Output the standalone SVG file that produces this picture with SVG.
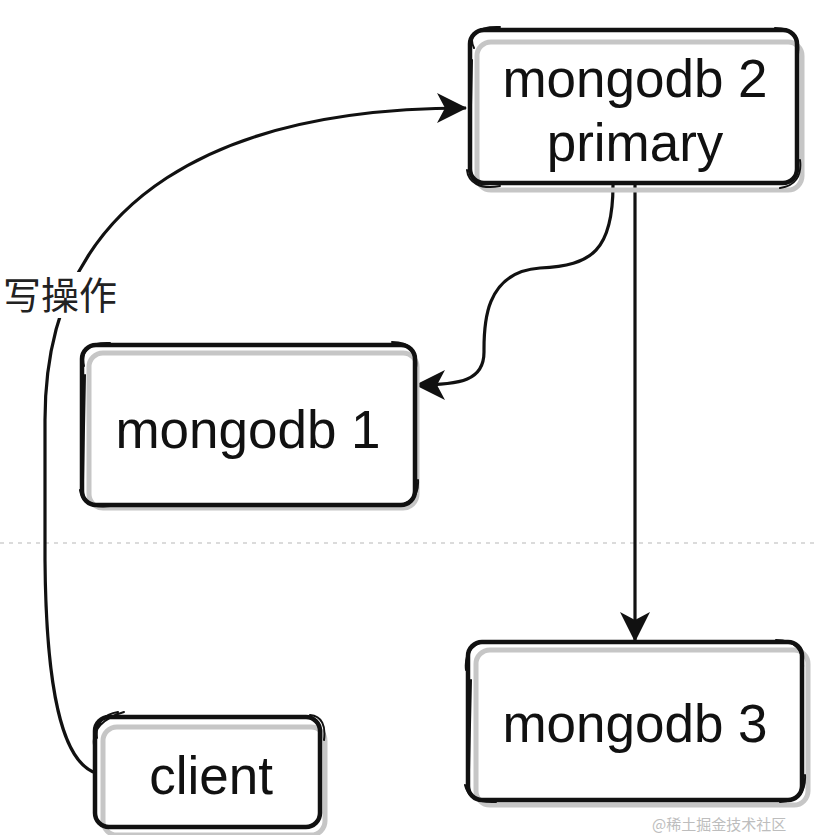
<svg xmlns="http://www.w3.org/2000/svg" width="817" height="835" viewBox="0 0 817 835">
  <style>
    .shadow { fill: none; stroke: #c6c6c6; stroke-width: 5; }
    .frame { fill: none; stroke: #111; stroke-width: 4.5; stroke-linejoin: round; stroke-linecap: round; }
    .sketch { fill: none; stroke: #111; stroke-width: 2; stroke-linecap: round; }
    .label { font-family: "Liberation Sans", Arial, sans-serif; font-size: 53px; fill: #111; text-anchor: middle; }
    .edge { fill: none; stroke: #111; stroke-width: 3.2; }
    .cjk { font-family: "Noto Sans CJK SC", "Noto Sans", sans-serif; font-size: 38px; fill: #222; }
  </style>
  <defs>
    <marker id="arrow" viewBox="0 0 30 30" refX="29" refY="15" markerWidth="30" markerHeight="30" markerUnits="userSpaceOnUse" orient="auto">
      <path d="M0,0 L30,15 L0,30 L8,15 Z" fill="#111"/>
    </marker>
  </defs>
  <rect width="817" height="835" fill="#fff"/>

  <line x1="0" y1="543" x2="817" y2="543" stroke="#cfcfcf" stroke-width="1.5" stroke-dasharray="4 5"/>

  <g id="connectors">
    <path class="edge" d="M96,773 C62,762 46,690 45,560 L45,420 C45,190 230,108 466,108" marker-end="url(#arrow)"/>
    <path class="edge" d="M613,185 C613,250 592,266 540,268 C482,272 484,330 484,352 C484,380 462,385 416,385" marker-end="url(#arrow)"/>
    <path class="edge" d="M635,185 L635,641" marker-end="url(#arrow)"/>
  </g>

  <g id="label-write">
    <rect x="0" y="272" width="122" height="46" fill="#fff"/>
    <text class="cjk" x="3" y="309">写操作</text>
  </g>

  <g id="mongodb2">
    <rect class="shadow" x="477" y="42" width="325" height="148" rx="14"/>
    <rect class="frame" x="470" y="30" width="327" height="153" rx="14"/>
    <path class="sketch" d="M474,48 C468,36 476,26 500,27 M467,170 C468,182 480,190 500,186 M775,28 C792,28 800,36 798,52 M800,160 C802,176 795,186 780,188 M472,60 L470,150"/>
    <text class="label" x="635" y="97">mongodb 2</text>
    <text class="label" x="635" y="161">primary</text>
  </g>

  <g id="mongodb1">
    <rect class="shadow" x="89" y="353" width="328" height="155" rx="14"/>
    <rect class="frame" x="82" y="345" width="333" height="160" rx="14"/>
    <path class="sketch" d="M84,366 C80,350 90,342 110,343 M80,490 C82,502 92,508 110,506 M392,342 C410,342 418,352 416,368 M418,480 C419,496 410,506 392,506 M85,375 L83,480"/>
    <text class="label" x="248" y="448">mongodb 1</text>
  </g>

  <g id="mongodb3">
    <rect class="shadow" x="476" y="650" width="332" height="155" rx="14"/>
    <rect class="frame" x="468" y="642" width="334" height="158" rx="14"/>
    <path class="sketch" d="M466,670 C464,652 474,640 494,641 M465,785 C468,798 478,803 496,802 M776,640 C795,640 804,650 803,668 M805,775 C806,792 798,801 780,802 M471,680 L469,770"/>
    <text class="label" x="635" y="742">mongodb 3</text>
  </g>

  <g id="client">
    <rect class="shadow" x="103" y="727" width="222" height="108" rx="14"/>
    <rect class="frame" x="95" y="717" width="225" height="110" rx="14"/>
    <path class="sketch" d="M97,738 C95,724 104,714 118,712 M94,745 C92,730 103,718 124,712 M310,715 C322,716 326,726 324,740"/>
    <text class="label" x="211" y="794">client</text>
  </g>

  <text x="652" y="830" font-family="Noto Sans CJK SC, sans-serif" font-size="15" fill="#bdbdbd">@稀土掘金技术社区</text>
</svg>
